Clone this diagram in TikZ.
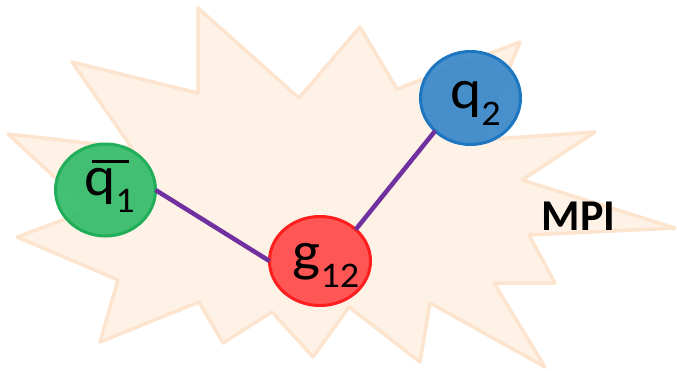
\documentclass[tikz,border=0pt]{standalone}
\usepackage{graphicx}
\usepackage{fontspec}
\setmainfont{Carlito}
\usetikzlibrary{shapes.geometric}

\definecolor{burstfill}{HTML}{FEF1E6}
\definecolor{burstline}{HTML}{FDE4CF}
\definecolor{qgreen}{HTML}{35BC6C}
\definecolor{qgreenline}{HTML}{20AE58}
\definecolor{qblue}{HTML}{3A88C8}
\definecolor{qblueline}{HTML}{1C76C0}
\definecolor{gred}{HTML}{FF4A4A}
\definecolor{gredline}{HTML}{FF1E1E}
\definecolor{link}{HTML}{7030A0}

% lowered subscript in the particle labels
\newcommand{\partsub}[1]{\raisebox{-17pt}{\fontsize{36}{36}\selectfont #1}}
% bar drawn over the antiquark label
\newcommand{\barover}[3]{\makebox[0pt][l]{\hspace{#1}\raisebox{#2}{\rule{#3}{3.5pt}}}}
% slightly widened label text
\newcommand{\wide}[1]{\scalebox{1.06}[1]{#1}}

\tikzset{
  particle/.style={ellipse, inner sep=0pt, outer sep=0pt, line width=3pt, fill opacity=0.93},
  partlabel/.style={anchor=base, inner sep=0pt, font=\fontsize{56}{64}\selectfont},
  linkline/.style={draw=link, line width=4.5pt},
}

\begin{document}
\begin{tikzpicture}[x=1pt, y=-1pt]
\useasboundingbox (0,0) rectangle (677,370);

% starburst region
\draw[fill=burstfill, draw=burstline, line width=3.5pt, line join=round]
  (198,8) -- (299,98) -- (360,27) -- (397,89) -- (520,42) -- (480,140)
  -- (595,132) -- (522,180) -- (675,228) -- (529,235) -- (555,283)
  -- (494,283) -- (545,367) -- (430,303) -- (420,362) -- (349,307)
  -- (313,357) -- (272,312) -- (223,343) -- (199,302) -- (100,342)
  -- (118,280) -- (17,237) -- (90,210) -- (8,134) -- (132,148)
  -- (72,62) -- (198,93) -- cycle;

% particles
\node[particle, fill=qgreen, draw=qgreenline, minimum width=100pt, minimum height=92pt] (qbar) at (105.5,190) {};
\node[particle, fill=qblue, draw=qblueline, minimum width=100pt, minimum height=93pt] (q2) at (470.5,98) {};
\node[particle, fill=gred, draw=gredline, minimum width=101pt, minimum height=89pt] (g12) at (320,261) {};

% links
\draw[linkline] (qbar.east) -- (g12.west);
\draw[linkline] (g12.north east) -- (q2.south west);

% labels
\node[partlabel] (qbart) at (109.5,195) {\wide{\barover{7.5pt}{32pt}{35pt}q\partsub{1}}};
\node[partlabel] (q2t) at (475.5,108) {\wide{q\partsub{2}}};
\node[partlabel] (g12t) at (326,270) {\wide{g\partsub{12}}};
\node[anchor=base, inner sep=0pt, font=\bfseries\fontsize{44}{50}\selectfont] (mpi) at (578.5,230) {MPI};
\end{tikzpicture}
\end{document}
